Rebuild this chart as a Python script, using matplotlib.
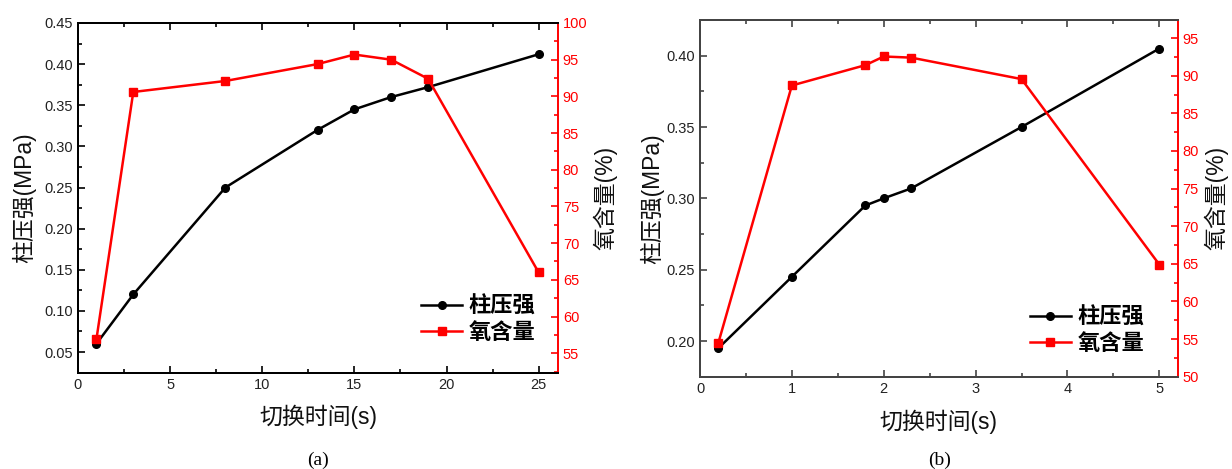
import matplotlib
matplotlib.use("Agg")
import matplotlib.pyplot as plt
from matplotlib.ticker import MultipleLocator

plt.rcParams['font.family'] = ['Liberation Sans', 'Noto Sans CJK SC', 'DejaVu Sans']

# ---- data ----
time_a = [1, 3, 8, 13, 15, 17, 19, 25]
pressure_a = [0.06, 0.12, 0.25, 0.32, 0.345, 0.36, 0.372, 0.412]
oxygen_a = [56.9, 90.6, 92.1, 94.4, 95.7, 95.0, 92.4, 66.0]

time_b = [0.2, 1, 1.8, 2, 2.3, 3.5, 5]
pressure_b = [0.195, 0.245, 0.295, 0.30, 0.307, 0.35, 0.405]
oxygen_b = [54.5, 88.7, 91.4, 92.55, 92.4, 89.55, 64.9]

xlabel = '切换时间(s)'
ylabel_left = '柱压强(MPa)'
ylabel_right = '氧含量(%)'
label_p = '柱压强'
label_o = '氧含量'

RED = '#ff0000'
W, H = 1232, 469
fig = plt.figure(figsize=(W / 100, H / 100), dpi=100)


def make_panel(rect, t, p, o, xlim, ylim_l, ylim_r, xmaj, xmin, ymaj_l, ymin_l,
               ymaj_r, ymin_r, spine_col, leg_xy, caption, cap_x, ylpad, xlpad):
    ax = fig.add_axes(rect)
    ax2 = ax.twinx()
    l1, = ax.plot(t, p, '-o', color='black', lw=1.8, ms=5.5, label=label_p)
    l2, = ax2.plot(t, o, '-s', color=RED, lw=1.8, ms=5.3, label=label_o)
    ax.set_xlim(*xlim)
    ax.set_ylim(*ylim_l)
    ax2.set_ylim(*ylim_r)
    ax.xaxis.set_major_locator(MultipleLocator(xmaj))
    ax.xaxis.set_minor_locator(MultipleLocator(xmin))
    ax.yaxis.set_major_locator(MultipleLocator(ymaj_l))
    ax.yaxis.set_minor_locator(MultipleLocator(ymin_l))
    ax2.yaxis.set_major_locator(MultipleLocator(ymaj_r))
    ax2.yaxis.set_minor_locator(MultipleLocator(ymin_r))
    ax.tick_params(which='both', direction='in', top=True, right=False,
                   labelsize=10.5, colors=spine_col, labelcolor='#222222', width=1.2)
    ax.tick_params(which='major', length=5)
    ax.tick_params(which='minor', length=3)
    ax2.tick_params(which='both', direction='in', colors=RED, labelsize=10.5, width=1.2)
    ax2.tick_params(which='major', length=5)
    ax2.tick_params(which='minor', length=3)
    for s in ['left', 'bottom', 'top']:
        ax.spines[s].set_color(spine_col)
        ax.spines[s].set_linewidth(1.4)
        ax2.spines[s].set_color(spine_col)
        ax2.spines[s].set_linewidth(1.4)
    ax2.spines['right'].set_color(RED)
    ax2.spines['right'].set_linewidth(1.4)
    ax.spines['right'].set_visible(False)
    ax.set_xlabel(xlabel, fontsize=16.5, color='#111111', labelpad=xlpad)
    ax.set_ylabel(ylabel_left, fontsize=16.5, color='#111111', labelpad=ylpad)
    ax2.set_ylabel(ylabel_right, fontsize=16.5, color='#111111', labelpad=4)
    ax2.legend([l1, l2], [label_p, label_o], loc='center', bbox_to_anchor=leg_xy,
               frameon=False, prop={'family': ['Noto Sans CJK SC'], 'weight': 'bold', 'size': 16},
               handlelength=1.85, handletextpad=0.3, labelspacing=0.12, borderpad=0)
    fig.text(cap_x, 0.018, caption, fontsize=14, family='Liberation Serif', ha='center', va='center')
    return ax, ax2


make_panel([78 / W, (H - 373) / H, (558 - 78) / W, (373 - 23) / H],
           time_a, pressure_a, oxygen_a, (0, 26.05), (0.0245, 0.45), (52.3, 100),
           5, 2.5, 0.05, 0.025, 5, 2.5, 'black', (0.834, 0.153), '(a)', 318 / W, 6, 9.5)

make_panel([700 / W, (H - 376.7) / H, (1177.7 - 700) / W, (376.7 - 20) / H],
           time_b, pressure_b, oxygen_b, (0, 5.2), (0.175, 0.425), (50, 97.4),
           1, 0.5, 0.05, 0.025, 5, 2.5, '#444444', (0.810, 0.130), '(b)', 940 / W, 2, 10.5)

fig.savefig('out.png', dpi=100)
